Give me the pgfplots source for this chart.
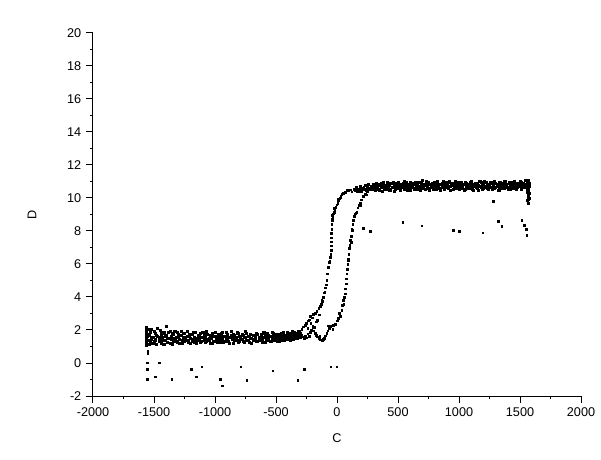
\documentclass[border=0pt]{standalone}
\usepackage{pgfplots}
\usepackage{pgfplotstable}
\pgfplotsset{compat=1.18}
\usepackage{fontspec}
\setmainfont{Liberation Sans}

\pgfplotstableread{
x a b
-1560 1.92 1.25
-1550 1.38 2.05
-1540 1.71 1.12
-1530 1.24 1.86
-1520 2.02 1.47
-1510 1.55 1.18
-1500 1.33 1.95
-1490 1.81 1.41
-1480 1.16 1.68
-1470 1.62 2.08
-1460 1.44 1.29
-1450 1.97 1.53
-1440 1.21 1.77
-1430 1.58 1.36
-1420 1.83 1.14
-1410 1.35 1.64
-1400 1.69 2.21
-1390 1.27 1.49
-1380 1.52 1.88
-1370 1.94 1.22
-1360 1.43 1.61
-1350 1.15 1.79
-1340 1.74 1.34
-1330 1.48 1.95
-1320 1.31 1.57
-1310 1.86 1.26
-1300 1.57 1.72
-1290 1.22 1.45
-1280 1.66 1.91
-1270 1.40 1.17
-1260 1.78 1.54
-1250 1.29 1.82
-1240 1.55 1.38
-1230 1.93 1.63
-1220 1.37 1.24
-1210 1.61 1.76
-1200 1.19 1.49
-1190 1.72 1.33
-1180 1.46 1.87
-1170 1.28 1.58
-1160 1.84 1.41
-1150 1.52 1.20
-1140 1.36 1.69
-1130 1.67 1.47
-1120 1.24 1.81
-1110 1.58 1.30
-1100 1.89 1.55
-1090 1.41 1.73
-1080 1.63 1.26
-1070 1.30 1.92
-1060 1.76 1.44
-1050 1.49 1.35
-1040 1.21 1.66
-1030 1.57 1.52
-1020 1.80 1.18
-1010 1.34 1.61
-1000 1.62 1.85
-990 1.45 1.37
-980 1.27 1.59
-970 1.71 1.42
-960 1.53 1.23
-950 1.38 1.77
-940 1.85 1.50
-930 1.25 1.64
-920 1.60 1.31
-910 1.47 1.88
-900 1.73 1.40
-890 1.32 1.56
-880 1.56 1.19
-870 1.91 1.68
-860 1.43 1.47
-850 1.22 1.74
-840 1.65 1.35
-830 1.50 1.58
-820 1.37 1.83
-810 1.78 1.28
-800 1.29 1.62
-790 1.59 1.45
-780 1.44 1.71
-770 1.70 1.33
-760 1.26 1.55
-750 1.54 1.90
-740 1.81 1.39
-730 1.39 1.60
-720 1.62 1.24
-710 1.48 1.75
-700 1.21 1.51
-690 1.67 1.36
-680 1.42 1.69
-670 1.58 1.47
-660 1.31 1.80
-650 1.75 1.30
-640 1.53 1.57
-630 1.36 1.44
-620 1.64 1.72
-610 1.46 1.26
-600 1.83 1.54
-590 1.28 1.66
-580 1.57 1.40
-570 1.41 1.78
-560 1.69 1.49
-550 1.34 1.61
-540 1.60 1.33
-530 1.50 1.84
-520 1.77 1.45
-510 1.38 1.58
-500 1.55 1.71
-490 1.45 1.29
-480 1.72 1.63
-470 1.30 1.52
-460 1.63 1.80
-450 1.49 1.38
-440 1.84 1.59
-430 1.40 1.70
-420 1.58 1.46
-410 1.67 1.86
-400 1.44 1.55
-390 1.79 1.66
-380 1.53 1.41
-370 1.71 1.90
-360 1.47 1.62
-350 1.88 1.55
-340 1.60 1.77
-330 1.75 1.49
-320 1.56 1.93
-310 1.94 1.68
-300 1.66 1.81
}\lowtab

\pgfplotstableread{
x a b
150 10.48 nan
160 10.62 nan
170 10.40 nan
180 10.55 nan
190 10.71 nan
200 10.44 nan
210 10.60 nan
220 10.52 nan
230 10.78 nan
240 10.47 nan
250 10.65 nan
260 10.83 nan
270 10.58 nan
280 10.70 nan
290 10.51 nan
300 10.86 10.62
310 10.64 10.49
320 10.90 10.73
330 10.57 10.85
340 10.75 10.55
350 10.48 10.80
360 10.92 10.66
370 10.69 10.43
380 10.81 10.94
390 10.55 10.70
400 10.74 10.52
410 10.96 10.83
420 10.61 10.67
430 10.79 10.45
440 10.50 10.88
450 10.87 10.63
460 10.66 10.98
470 10.42 10.72
480 10.84 10.56
490 10.71 10.90
500 10.95 10.60
510 10.58 10.79
520 10.77 10.47
530 10.63 10.85
540 10.89 10.69
550 10.53 11.02
560 10.76 10.58
570 10.98 10.81
580 10.67 10.50
590 10.82 10.74
600 10.46 10.93
610 10.73 10.64
620 10.91 10.78
630 10.60 10.52
640 10.85 10.97
650 10.70 10.61
660 10.51 10.84
670 10.94 10.71
680 10.65 10.46
690 10.80 10.89
700 11.05 10.68
710 10.57 10.82
720 10.76 10.55
730 10.88 10.99
740 10.62 10.73
750 10.97 10.59
760 10.49 10.86
770 10.78 10.65
780 10.90 10.77
790 10.66 10.51
800 10.83 10.95
810 10.55 10.70
820 10.99 10.87
830 10.72 10.60
840 10.59 10.83
850 10.86 10.48
860 10.68 10.92
870 11.02 10.75
880 10.54 10.63
890 10.80 10.97
900 10.64 10.79
910 10.93 10.57
920 10.71 11.04
930 10.47 10.69
940 10.87 10.84
950 10.75 10.53
960 10.61 10.90
970 11.00 10.72
980 10.69 10.58
990 10.84 10.96
1000 10.56 10.74
1010 10.78 10.88
1020 10.95 10.62
1030 10.63 10.81
1040 10.81 10.50
1050 10.52 10.93
1060 10.90 10.67
1070 10.70 10.85
1080 10.58 10.61
1090 10.97 10.78
1100 10.66 10.99
1110 10.83 10.56
1120 10.49 10.73
1130 10.76 10.89
1140 10.92 10.64
1150 10.61 10.82
1160 10.79 10.47
1170 11.03 10.70
1180 10.68 10.94
1190 10.55 10.77
1200 10.85 10.59
1210 10.72 11.01
1220 10.96 10.68
1230 10.60 10.86
1240 10.82 10.53
1250 10.67 10.79
1260 10.91 10.95
1270 10.54 10.66
1280 10.77 10.84
1290 10.99 10.58
1300 10.63 10.91
1310 10.86 10.72
1320 10.71 10.48
1330 10.50 10.97
1340 10.94 10.75
1350 10.69 10.62
1360 10.80 10.88
1370 10.58 11.03
1380 11.01 10.66
1390 10.74 10.81
1400 10.62 10.55
1410 10.88 10.93
1420 10.53 10.71
1430 10.97 10.86
1440 10.70 10.60
1450 10.84 11.02
1460 10.59 10.76
1470 10.92 10.52
1480 10.67 10.89
1490 10.81 10.69
1500 11.04 10.84
1510 10.56 10.98
1520 10.78 10.63
1530 10.90 10.80
1540 10.64 11.06
1550 10.85 10.71
1560 10.73 10.94
1570 10.99 10.58
}\hightab

\pgfplotstableread{
x y
300 10.72
280 10.55
260 10.81
240 10.48
220 10.66
200 10.58
180 10.42
160 10.63
140 10.51
120 10.38
107 10.50
95 10.45
80 10.48
66 10.35
52 10.30
40 10.22
30 10.12
25 10.02
18 9.95
12 9.85
5 9.70
-3 9.60
-10 9.45
-18 9.30
-25 9.15
-30 9.05
-35 8.85
-40 8.65
-43 8.40
-44 8.10
-45 7.85
-46 7.60
-47 7.35
-48 7.10
-49 6.85
-52 6.60
-57 6.40
-63 6.10
-71 5.80
-78 5.40
-84 5.00
-90 4.75
-98 4.55
-105 4.25
-112 4.00
-120 3.75
-130 3.55
-139 3.45
-150 3.30
-165 3.15
-180 3.00
-194 2.95
-205 2.75
-221 2.85
-235 2.55
-250 2.40
-262 2.30
-276 2.20
-290 2.05
-215 2.40
-185 2.15
-160 2.60
-200 2.25
-42 8.72
-38 8.95
-60 6.20
-100 4.30
-125 3.82
-240 2.10
-228 2.62
-172 2.50
-145 2.92
-20 9.38
10 9.92
}\downtab

\pgfplotstableread{
x y
-300 1.55
-290 1.72
-280 1.60
-270 1.48
-260 1.66
-250 1.52
-240 1.78
-230 1.62
-220 1.88
-210 2.00
-200 2.15
-190 1.95
-180 1.80
-170 1.70
-160 1.58
-150 1.50
-140 1.45
-130 1.40
-120 1.35
-112 1.42
-105 1.50
-95 1.65
-85 1.80
-75 1.95
-65 2.10
-57 2.20
-45 2.25
-30 2.30
-16 2.35
0 2.55
12 2.70
25 2.85
38 3.20
45 3.50
52 3.80
60 4.00
66 4.20
70 4.50
74 4.80
78 5.10
80 5.40
84 5.70
88 6.00
92 6.30
96 6.60
101 6.95
106 7.15
112 7.35
118 7.70
124 8.05
130 8.40
134 8.67
142 8.90
150 9.05
161 9.17
170 9.40
180 9.55
189 9.70
200 9.90
216 10.10
230 10.25
249 10.40
265 10.50
280 10.58
298 10.60
-140 1.62
-100 1.55
-70 2.25
-35 2.05
20 3.02
55 3.55
90 6.22
108 7.42
115 7.33
160 9.10
195 9.52
240 10.20
258 10.62
}\uptab

\pgfplotstableread{
x y
-1565 1.05
-1563 1.30
-1566 1.55
-1562 1.80
-1564 2.10
-1561 2.18
-1567 1.20
-1560 1.45
-1565 1.70
-1563 1.95
-1558 1.15
-1562 2.00
-1566 1.38
-1559 1.62
-1564 1.88
1562 9.85
1565 10.05
1568 10.20
1563 10.35
1567 10.50
1564 10.65
1569 10.80
1566 10.95
1563 11.08
1570 9.95
1572 10.28
1571 10.60
1573 10.88
1568 11.10
1566 10.15
1561 10.42
1575 10.72
1560 10.90
1574 10.00
1558 10.55
1568 9.67
}\endtab

\pgfplotstableread{
x y
-1552 0.59
-1550 0.75
-1555 0.02
-1555 -0.36
-1555 -0.99
-1492 -0.83
-1456 0.02
-1355 -0.97
-1197 -0.36
-1156 -0.83
-1109 -0.22
-959 -0.97
-940 -1.39
-789 -0.22
-740 -1.03
-527 -0.47
-322 -1.03
-270 -0.36
-52 -0.22
-3 -0.22
120 8.10
216 8.15
270 8.00
538 8.52
694 8.32
953 8.06
1000 8.00
1194 7.90
1322 8.60
1350 8.27
1514 8.67
1533 8.36
1549 8.10
1555 7.76
1282 9.80
}\outtab

\begin{document}
\begin{tikzpicture}
\begin{axis}[
  scale only axis,
  width=366pt, height=272.25pt,
  xmin=-2000, xmax=2000, ymin=-2, ymax=20,
  axis x line=bottom, axis y line=left,
  axis line style={-, line width=0.75pt, black},
  xtick={-2000,-1500,...,2000},
  ytick={-2,0,...,20},
  minor x tick num=1, minor y tick num=1,
  tick align=outside,
  major tick length=5.25pt, minor tick length=2.6pt,
  every tick/.style={line width=0.75pt, black},
  scaled ticks=false,
  /pgf/number format/assume math mode=true,
  /pgf/number format/set thousands separator={},
  ticklabel style={font=\fontsize{9.5}{11}\selectfont, text=black},
  xlabel={C}, ylabel={D},
  label style={font=\fontsize{9.5}{11}\selectfont},
  xlabel style={at={(axis description cs:0.5,-0.1157)}, anchor=center},
  ylabel style={at={(axis description cs:-0.125,0.5)}, anchor=center},
  pt/.style={black, only marks, mark=square*, mark size=0.62pt,
     mark options={draw=none, fill=black}},
  bd/.style={black, only marks, mark=square*, mark size=0.78pt,
     mark options={draw=none, fill=black}},
]
\addplot[bd] table[x=x, y=a] {\lowtab};
\addplot[bd] table[x=x, y=b] {\lowtab};
\addplot[bd] table[x=x, y=a] {\hightab};
\addplot[bd] table[x=x, y=b] {\hightab};
\addplot[pt] table[x=x, y=y] {\downtab};
\addplot[pt] table[x=x, y=y] {\uptab};
\addplot[bd] table[x=x, y=y] {\endtab};
\addplot[pt] table[x=x, y=y] {\outtab};
\coordinate (bl) at (rel axis cs:0,0);
\coordinate (tr) at (rel axis cs:1,1);
\end{axis}
\path ([shift={(-69.75pt,-47.25pt)}]bl) rectangle ([shift={(15pt,24.75pt)}]tr);
\end{tikzpicture}
\end{document}
